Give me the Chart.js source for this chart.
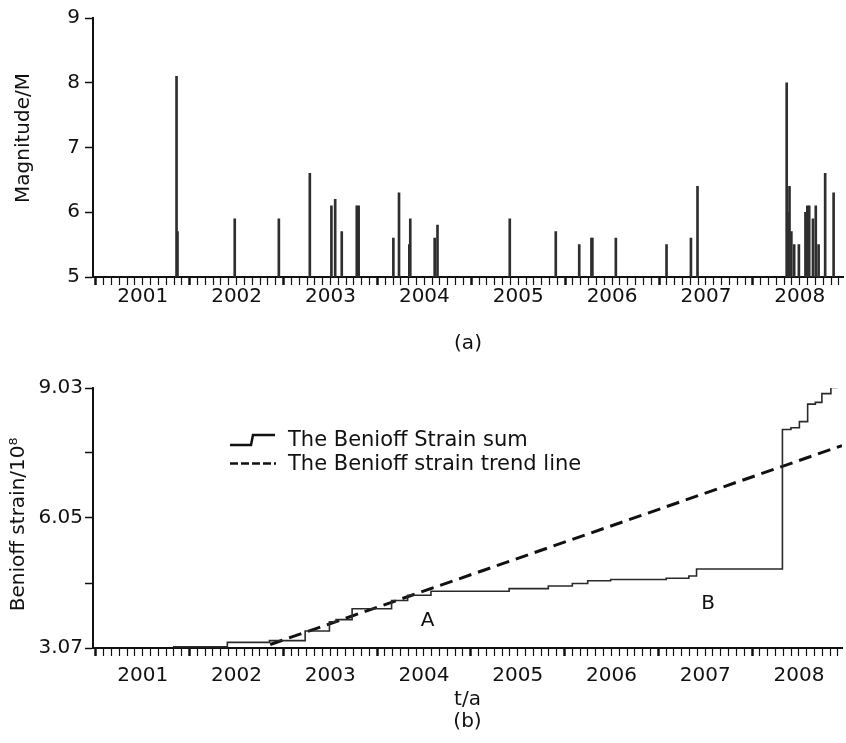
<!DOCTYPE html>
<html>
<head>
<meta charset="utf-8">
<script src="https://cdn.jsdelivr.net/npm/chart.js@4.4.1/dist/chart.umd.min.js"></script>
<style>
  html, body { margin: 0; padding: 0; background: #fff; }
  #wrap { position: relative; width: 846px; height: 743px; }
  #boxA { position: absolute; left: 0; top: 0; width: 846px; height: 370px; }
  #boxB { position: absolute; left: 0; top: 370px; width: 846px; height: 373px; }
</style>
</head>
<body>
<div id="wrap">
  <div id="boxA"><canvas id="chartA"></canvas></div>
  <div id="boxB"><canvas id="chartB"></canvas></div>
</div>
<script>
// Earthquakes: time (decimal year) and magnitude
const quakeTimes = [2001.86, 2001.87, 2002.48, 2002.95, 2003.28, 2003.51, 2003.55, 2003.62, 2003.78, 2003.80,
                    2004.17, 2004.23, 2004.34, 2004.35, 2004.61, 2004.64, 2005.41, 2005.90, 2006.15, 2006.28,
                    2006.29, 2006.54, 2007.08, 2007.34, 2007.41, 2008.36, 2008.37, 2008.39, 2008.41, 2008.44,
                    2008.49, 2008.56, 2008.58, 2008.60, 2008.64, 2008.67, 2008.70, 2008.77, 2008.86];
const quakeMags = [8.1, 5.7, 5.9, 5.9, 6.6, 6.1, 6.2, 5.7, 6.1, 6.1,
                   5.6, 6.3, 5.5, 5.9, 5.6, 5.8, 5.9, 5.7, 5.5, 5.6,
                   5.6, 5.6, 5.5, 5.6, 6.4, 8.0, 6.0, 6.4, 5.7, 5.5,
                   5.5, 6.0, 6.1, 6.1, 5.9, 6.1, 5.5, 6.6, 6.3];

// Cumulative Benioff strain (step line)
const strainTimes = [2001.823, 2002.403, 2002.853, 2003.233, 2003.492, 2003.563, 2003.734, 2004.155, 2004.326,
                     2004.575, 2005.409, 2005.827, 2006.083, 2006.247, 2006.492, 2007.084, 2007.326, 2007.408,
                     2008.324, 2008.415, 2008.505, 2008.593, 2008.675, 2008.745, 2008.841, 2008.913];
const strainValues = [3.10, 3.20, 3.24, 3.46, 3.67, 3.72, 3.97, 4.16, 4.28,
                      4.37, 4.43, 4.49, 4.55, 4.61, 4.64, 4.67, 4.72, 4.88,
                      8.08, 8.12, 8.26, 8.66, 8.70, 8.90, 9.04, 9.04];

// Trend line
const trendTimes = [2002.86, 2008.96];
const trendValues = [3.15, 7.71];

// Axes
const years = [2001, 2002, 2003, 2004, 2005, 2006, 2007, 2008];
const magTicks = [5, 6, 7, 8, 9];
const strainTicks = [3.07, 4.56, 6.05, 7.54, 9.03];
const strainTickLabels = ['3.07', '', '6.05', '', '9.03'];

// Text marks in panel (b)
const markLabels = ['A', 'B'];
const markTimes = [2004.54, 2007.53];
const markValues = [3.69, 4.09];

const xMin = 2000.97, xMax = 2008.96;
const INK = '#111';

Chart.defaults.font.family = 'DejaVu Sans';
Chart.defaults.font.size = 20;
Chart.defaults.color = INK;

function monthTicks() {
    const list = [];
    years.forEach(y => {
        for (let m = 0; m < 12; m++) list.push({ value: y + m / 12 });
    });
    return list;
}

function timeAxis(labelPad, title, titlePad, height) {
    return {
        type: 'linear',
        min: xMin,
        max: xMax,
        offset: false,
        afterBuildTicks: axis => { axis.ticks = monthTicks(); },
        afterFit: axis => { axis.height = height; },
        ticks: {
            autoSkip: false,
            maxRotation: 0,
            padding: labelPad,
            callback: (v, i) => (i % 12 === 6 ? String(years[Math.floor(i / 12)]) : '')
        },
        grid: {
            drawOnChartArea: false,
            offset: false,
            tickLength: 8,
            tickColor: INK,
            tickWidth: c => (c.index % 12 === 0 ? 2.5 : 1.2)
        },
        border: { color: INK, width: 2 },
        title: { display: true, text: title, padding: titlePad, font: { lineHeight: 1.1 } }
    };
}

function valueAxis(min, max, tickValues, labelFn, labelPad, title, titlePad) {
    return {
        min: min,
        max: max,
        afterBuildTicks: axis => { axis.ticks = tickValues.map(v => ({ value: v })); },
        afterFit: axis => { axis.width = 93; },
        ticks: { padding: labelPad, callback: labelFn },
        grid: { drawOnChartArea: false, tickLength: 8, tickColor: INK, tickWidth: 1.5 },
        border: { color: INK, width: 2 },
        title: { display: true, text: title, padding: titlePad }
    };
}

// Legend and the A / B marks for panel (b)
const panelBOverlay = {
    id: 'panelBOverlay',
    afterDraw(chart) {
        const { ctx, scales: { x, y } } = chart;
        ctx.save();
        ctx.strokeStyle = INK;
        ctx.fillStyle = INK;
        ctx.lineWidth = 2.5;

        // step symbol
        ctx.beginPath();
        ctx.moveTo(230, 75);
        ctx.lineTo(251, 75);
        ctx.lineTo(253, 65);
        ctx.lineTo(275, 65);
        ctx.stroke();
        // dashed symbol
        ctx.setLineDash([8, 3]);
        ctx.beginPath();
        ctx.moveTo(230, 93.5);
        ctx.lineTo(276, 93.5);
        ctx.stroke();
        ctx.setLineDash([]);

        ctx.font = '21px "DejaVu Sans"';
        ctx.textBaseline = 'middle';
        ctx.textAlign = 'left';
        ctx.fillText(chart.data.datasets[0].label, 288, 71);
        ctx.fillText(chart.data.datasets[1].label, 288, 94.5);

        ctx.font = '20px "DejaVu Sans"';
        ctx.textAlign = 'center';
        markLabels.forEach((s, i) => {
            ctx.fillText(s, x.getPixelForValue(markTimes[i]), y.getPixelForValue(markValues[i]));
        });
        ctx.restore();
    }
};

new Chart(document.getElementById('chartA'), {
    type: 'bar',
    data: {
        datasets: [{
            label: 'Magnitude',
            data: quakeTimes.map((t, i) => ({ x: t, y: quakeMags[i] })),
            backgroundColor: '#2e2e2e',
            borderWidth: 0,
            barThickness: 2
        }]
    },
    options: {
        responsive: true,
        maintainAspectRatio: false,
        animation: false,
        layout: { padding: { top: 18, right: 3, left: 0, bottom: 0 } },
        plugins: { legend: { display: false }, tooltip: { enabled: false } },
        scales: {
            x: timeAxis(0, '(a)', { top: 0, bottom: 15 }, 93),
            // leading spaces lift the rotated title a little, as in the source figure
            y: valueAxis(5, 9, magTicks, v => String(v), 5, '   Magnitude/M', { top: 12, bottom: 0 })
        }
    }
});

new Chart(document.getElementById('chartB'), {
    type: 'line',
    data: {
        datasets: [{
            label: 'The Benioff Strain sum',
            data: strainTimes.map((t, i) => ({ x: t, y: strainValues[i] })),
            borderColor: '#2a2a2a',
            borderWidth: 1.6,
            stepped: true,
            pointRadius: 0,
            fill: false
        }, {
            label: 'The Benioff strain trend line',
            data: trendTimes.map((t, i) => ({ x: t, y: trendValues[i] })),
            borderColor: INK,
            borderWidth: 3,
            borderDash: [13, 7],
            pointRadius: 0,
            fill: false
        }]
    },
    options: {
        responsive: true,
        maintainAspectRatio: false,
        animation: false,
        layout: { padding: { top: 18, right: 3, left: 0, bottom: 0 } },
        plugins: { legend: { display: false }, tooltip: { enabled: false } },
        scales: {
            x: timeAxis(8, ['t/a', '(b)'], { top: 0, bottom: 10 }, 95),
            y: valueAxis(3.07, 9.03, strainTicks, (v, i) => strainTickLabels[i], 2,
                         'Benioff strain/10\u2078  ', { top: 7, bottom: 0 })
        }
    },
    plugins: [panelBOverlay]
});
</script>
</body>
</html>
